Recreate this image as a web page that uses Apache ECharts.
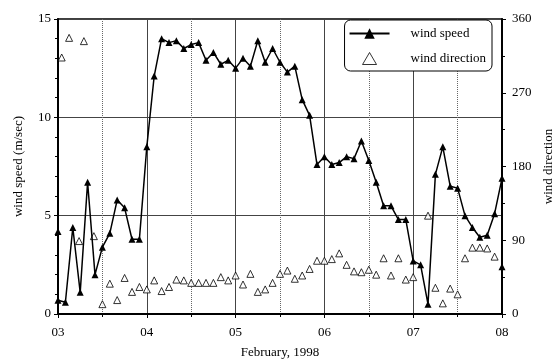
<!DOCTYPE html>
<html>
<head>
<meta charset="utf-8">
<script src="https://cdn.jsdelivr.net/npm/echarts@6/dist/echarts.min.js"></script>
<style>
  html, body { margin: 0; padding: 0; background: #fff; }
  #chart { width: 554px; height: 360px; }
</style>
</head>
<body>
<div id="chart"></div>
<script>
// x axis in hours from 03 Feb 00:00
const dayLabels = ['03', '04', '05', '06', '07', '08']

// wind speed (m/sec), 2-hourly, with the jumps at both ends
const speedHours = [
  0, 0, 2, 4, 6, 8, 10, 12, 14, 16, 18, 20, 22,
  24, 26, 28, 30, 32, 34, 36, 38, 40, 42, 44, 46,
  48, 50, 52, 54, 56, 58, 60, 62, 64, 66, 68, 70,
  72, 74, 76, 78, 80, 82, 84, 86, 88, 90, 92, 94,
  96, 98, 100, 102, 104, 106, 108, 110, 112, 114, 116, 118,
  120, 120
]
const speedValues = [
  4.2, 0.7, 0.6, 4.4, 1.1, 6.7, 2.0, 3.4, 4.1, 5.8, 5.4, 3.8, 3.8,
  8.5, 12.1, 14.0, 13.8, 13.9, 13.5, 13.7, 13.8, 12.9, 13.3, 12.7, 12.9,
  12.5, 13.0, 12.6, 13.9, 12.8, 13.5, 12.8, 12.3, 12.6, 10.9, 10.1, 7.6,
  8.0, 7.6, 7.7, 8.0, 7.9, 8.8, 7.8, 6.7, 5.5, 5.5, 4.8, 4.8,
  2.7, 2.5, 0.5, 7.1, 8.5, 6.5, 6.4, 5.0, 4.4, 3.9, 4.0, 5.1,
  6.9, 2.4
]

// wind direction (deg)
const dirHours = [
  1, 3, 5.7, 7, 9.7,
  12, 14, 16, 18, 20, 22, 24, 26, 28, 30, 32, 34, 36, 38, 40, 42, 44, 46,
  48, 50, 52, 54, 56, 58, 60, 62, 64, 66, 68, 70, 72, 74, 76, 78, 80, 82,
  84, 86, 88, 90, 92, 94, 96, 100, 102, 104, 106, 108, 110, 112, 114, 116, 118
]
const dirValues = [
  313, 337, 89, 333, 95,
  12, 37, 17, 44, 27, 33, 30, 41, 28, 33, 42, 41, 38, 38, 38, 38, 45, 41,
  47, 36, 49, 27, 30, 38, 49, 53, 43, 47, 55, 65, 65, 67, 74, 60, 52, 51,
  54, 48, 68, 47, 68, 42, 45, 120, 32, 13, 31, 24, 68, 81, 81, 80, 70
]

const speedData = speedHours.map((h, i) => [h, speedValues[i]])
const dirData = dirHours.map((h, i) => [h, dirValues[i]])

const font = 'Liberation Serif'
// hollow triangle for the legend; zero-length ends keep it narrow in the wide icon slot
const triIcon = 'path://M0,12L0,12M20,0L13,12L27,12Z M40,12L40,12'
const chart = echarts.init(document.getElementById('chart'))

const option = {
  backgroundColor: '#fff',
  animation: false,
  textStyle: { fontFamily: font, color: '#000' },
  grid: {
    left: 58,
    right: 52,
    top: 19,
    bottom: 46,
    outerBoundsMode: 'none',
    show: true,
    borderColor: '#000',
    borderWidth: 1.5,
  },
  legend: {
    orient: 'vertical',
    right: 62,
    top: 20,
    width: 145,
    padding: [7, 6, 6, 4],
    itemGap: 12,
    itemWidth: 40,
    itemHeight: 13,
    borderColor: '#000',
    borderWidth: 1,
    borderRadius: 6,
    backgroundColor: '#fff',
    textStyle: { fontFamily: font, fontSize: 13, color: '#000', padding: [0, 0, 0, 16] },
    data: [
      { name: 'wind speed' },
      { name: 'wind direction', icon: triIcon, itemStyle: { color: '#fff', borderColor: '#000', borderWidth: 1 } },
    ],
  },
  xAxis: {
    type: 'value',
    min: 0,
    max: 120,
    interval: 24,
    name: 'February, 1998',
    nameLocation: 'middle',
    nameGap: 32,
    nameTextStyle: { fontFamily: font, fontSize: 13, color: '#000' },
    axisLine: { show: true, lineStyle: { color: '#000', width: 2 } },
    axisTick: { show: true, length: 4, lineStyle: { color: '#000' } },
    minorTick: { show: true, splitNumber: 2, length: 3, lineStyle: { color: '#000' } },
    axisLabel: {
      fontFamily: font,
      fontSize: 13,
      color: '#000',
      margin: 12,
      formatter: (v) => dayLabels[Math.round(v / 24)],
    },
    splitLine: { show: true, lineStyle: { color: '#444', width: 1 } },
    minorSplitLine: { show: true, lineStyle: { color: '#666', width: 1, type: 'dotted' } },
  },
  yAxis: [
    {
      type: 'value',
      min: 0,
      max: 15,
      interval: 5,
      name: 'wind speed (m/sec)',
      nameLocation: 'middle',
      nameGap: 33,
      nameTextStyle: { fontFamily: font, fontSize: 13, color: '#000' },
      axisLine: { show: true, lineStyle: { color: '#000', width: 2 } },
      axisTick: { show: true, length: 4, lineStyle: { color: '#000' } },
      minorTick: { show: true, splitNumber: 5, length: 3, lineStyle: { color: '#000' } },
      axisLabel: { fontFamily: font, fontSize: 13, color: '#000', margin: 7 },
      splitLine: { show: true, lineStyle: { color: '#444', width: 1 } },
    },
    {
      type: 'value',
      min: 0,
      max: 360,
      interval: 90,
      name: 'wind direction',
      nameLocation: 'middle',
      nameGap: 34,
      nameRotate: 90,
      nameTextStyle: { fontFamily: font, fontSize: 13, color: '#000' },
      axisLine: { show: true, lineStyle: { color: '#000', width: 2 } },
      axisTick: { show: true, length: 4, lineStyle: { color: '#000' } },
      minorTick: { show: true, splitNumber: 2, length: 3, lineStyle: { color: '#000' } },
      axisLabel: { fontFamily: font, fontSize: 13, color: '#000', margin: 10 },
      splitLine: { show: false },
    },
  ],
  series: [
    {
      name: 'wind speed',
      type: 'line',
      data: speedData,
      symbol: 'triangle',
      symbolSize: 7,
      lineStyle: { color: '#000', width: 1.5 },
      itemStyle: { color: '#000' },
      z: 3,
    },
    {
      name: 'wind direction',
      type: 'scatter',
      yAxisIndex: 1,
      data: dirData,
      symbol: 'triangle',
      symbolSize: 7,
      itemStyle: { color: '#fff', borderColor: '#000', borderWidth: 1 },
      z: 2,
    },
  ],
}

chart.setOption(option)
</script>
</body>
</html>
